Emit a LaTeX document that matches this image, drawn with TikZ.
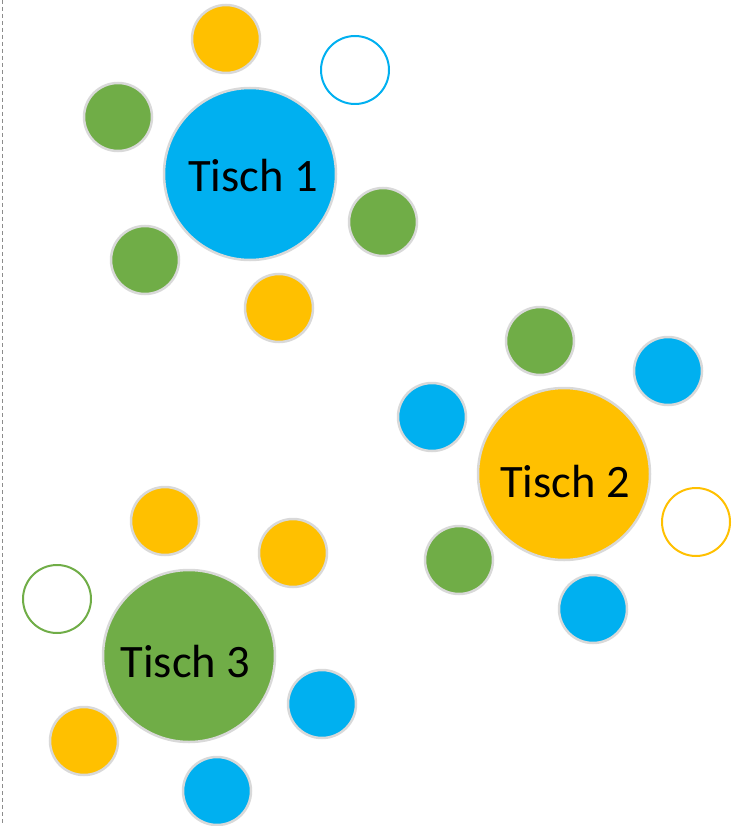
\documentclass[tikz,border=0pt]{standalone}
\usepackage{fontspec}
\setmainfont{Carlito}
\definecolor{cblue}{HTML}{00B0F0}
\definecolor{cyellow}{HTML}{FFC000}
\definecolor{cgreen}{HTML}{70AD47}
\definecolor{cborder}{HTML}{D9D9D9}
\definecolor{cdash}{HTML}{8C8C8C}
\tikzset{
  table/.style={circle, draw=cborder, line width=2.5pt, minimum size=172pt, inner sep=0pt},
  tablename/.style={anchor=base, inner sep=0pt, font=\fontsize{46.5}{56}\selectfont, text=black},
  seat/.style={circle, draw=cborder, line width=2.5pt, minimum size=68pt, inner sep=0pt},
  freeseat/.style={circle, line width=2pt, minimum size=68pt, inner sep=0pt, fill=white},
}
\begin{document}
\begin{tikzpicture}[x=1pt,y=-1pt]
\useasboundingbox (0,0) rectangle (746,826);
\coordinate (d1) at (2.5,0);
\coordinate (d2) at (2.5,826);
\draw[cdash, line width=1pt, dash pattern=on 4pt off 3pt] (d1) -- (d2);
% Tisch 1
\node[table, fill=cblue] (t1) at (250,174) {};
\node[tablename] (n1) at (253,192) {Tisch 1};
\node[seat, fill=cyellow] (s11) at (226,39) {};
\node[freeseat, draw=cblue] (s12) at (355,70) {};
\node[seat, fill=cgreen] (s13) at (118,117) {};
\node[seat, fill=cgreen] (s14) at (383,222) {};
\node[seat, fill=cgreen] (s15) at (145,260) {};
\node[seat, fill=cyellow] (s16) at (279,308) {};
% Tisch 2
\node[table, fill=cyellow] (t2) at (564,474) {};
\node[tablename] (n2) at (565,497) {Tisch 2};
\node[seat, fill=cgreen] (s21) at (540,341) {};
\node[seat, fill=cblue] (s22) at (668,371) {};
\node[seat, fill=cblue] (s23) at (432,417) {};
\node[freeseat, draw=cyellow] (s24) at (696,522) {};
\node[seat, fill=cgreen] (s25) at (459,560) {};
\node[seat, fill=cblue] (s26) at (593,609) {};
% Tisch 3
\node[table, fill=cgreen] (t3) at (189,656) {};
\node[tablename] (n3) at (185.5,677) {Tisch 3};
\node[seat, fill=cyellow] (s31) at (165,521) {};
\node[seat, fill=cyellow] (s32) at (293,553) {};
\node[freeseat, draw=cgreen] (s33) at (57,599) {};
\node[seat, fill=cblue] (s34) at (322,704) {};
\node[seat, fill=cyellow] (s35) at (84,741) {};
\node[seat, fill=cblue] (s36) at (217,791) {};
\end{tikzpicture}
\end{document}
